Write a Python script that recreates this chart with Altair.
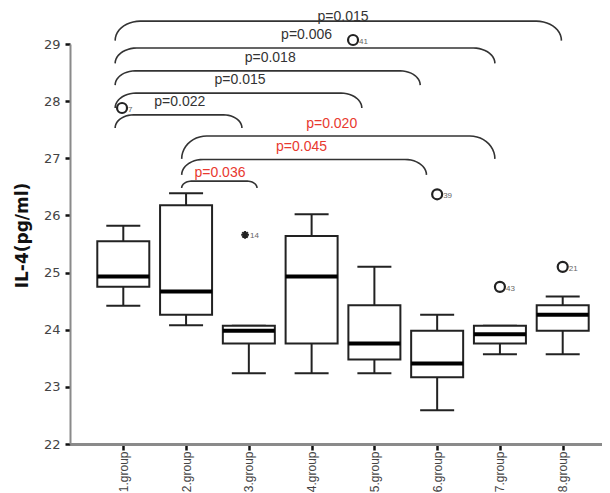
import altair as alt
import numpy as np
import pandas as pd

# ---------------- data ----------------
GROUPS = ["1.group", "2.group", "3.group", "4.group", "5.group", "6.group", "7.group", "8.group"]
POS = [1, 2, 3, 4, 5, 6, 7, 8]
WHISK_LO = [24.42, 24.08, 23.24, 23.24, 23.24, 22.59, 23.57, 23.57]
Q1 = [24.75, 24.26, 23.76, 23.76, 23.48, 23.17, 23.76, 23.98]
MEDIAN = [24.93, 24.67, 23.98, 24.93, 23.76, 23.41, 23.92, 24.26]
Q3 = [25.55, 26.18, 24.07, 25.64, 24.43, 23.98, 24.07, 24.43]
WHISK_HI = [25.82, 26.39, 24.07, 26.02, 25.10, 24.26, 24.07, 24.58]

OUT_POS = [0.98, 4.66, 6.0, 7.0, 8.0]
OUT_VAL = [27.88, 29.07, 26.37, 24.75, 25.10]
OUT_LAB = ["7", "41", "39", "43", "21"]

EXT_POS = [2.94]
EXT_VAL = [25.66]
EXT_LAB = ["14"]

BR_X1 = [0.87, 0.87, 0.87, 0.87, 0.87, 1.93, 1.93, 1.93]
BR_X2 = [7.98, 6.92, 5.73, 4.80, 2.89, 6.92, 5.83, 3.13]
BR_TOP = [29.40, 28.93, 28.53, 28.14, 27.76, 27.39, 26.98, 26.60]
BR_END = [29.06, 28.66, 28.28, 27.88, 27.53, 26.99, 26.71, 26.48]
P_LABEL = ["p=0.015", "p=0.006", "p=0.018", "p=0.015", "p=0.022", "p=0.020", "p=0.045", "p=0.036"]
P_X = [4.50, 3.92, 3.34, 2.86, 1.90, 4.32, 3.84, 2.54]
P_Y = [29.48, 29.16, 28.75, 28.37, 27.99, 27.60, 27.20, 26.75]
P_RED = [False, False, False, False, False, True, True, True]

Y_TICKS = [22, 23, 24, 25, 26, 27, 28, 29]

# ---------------- layout constants ----------------
W, H = 532, 400
X_DOMAIN = [0.151, 8.626]
Y_DOMAIN = [22, 29]
PX_PER_X = W / (X_DOMAIN[1] - X_DOMAIN[0])
PX_PER_Y = H / (Y_DOMAIN[1] - Y_DOMAIN[0])
BOX_HW = 26 / PX_PER_X
CAP_HW = 17 / PX_PER_X

boxes = pd.DataFrame({"group": GROUPS, "pos": POS, "lo": WHISK_LO, "q1": Q1,
                      "med": MEDIAN, "q3": Q3, "hi": WHISK_HI})
outl = pd.DataFrame({"pos": OUT_POS, "val": OUT_VAL, "lab": OUT_LAB})
ext = pd.DataFrame({"pos": EXT_POS, "val": EXT_VAL, "lab": EXT_LAB})
ptext = pd.DataFrame({"pos": P_X, "val": P_Y, "lab": P_LABEL,
                      "col": ["red" if r else "black" for r in P_RED]})

# bracket paths (rounded ends) built from bracket endpoints
rows = []
t = np.linspace(0, np.pi / 2, 12)
for b in range(len(BR_X1)):
    x1, x2, yt, ye = BR_X1[b], BR_X2[b], BR_TOP[b], BR_END[b]
    drop_px = (yt - ye) * PX_PER_Y
    rx = min(25, 1.4 * drop_px) / PX_PER_X
    ry = yt - ye
    xs = list(x1 + rx * (1 - np.cos(t))) + list((x2 - rx * (1 - np.cos(t)))[::-1])
    ys = list(ye + ry * np.sin(t)) + list((ye + ry * np.sin(t))[::-1])
    for i, (xx, yy) in enumerate(zip(xs, ys)):
        rows.append({"bid": b, "idx": i, "pos": xx, "val": yy})
brk = pd.DataFrame(rows)

label_expr = "[" + ",".join("'" + g + "'" for g in GROUPS) + "][datum.value - 1]"

xscale = alt.Scale(domain=X_DOMAIN, nice=False, zero=False)
yscale = alt.Scale(domain=Y_DOMAIN, nice=False, zero=False)
xaxis = alt.Axis(values=POS, labelExpr=label_expr, title=None, grid=False,
                 domainColor="#8a8a8a", domainWidth=3, tickColor="#111", tickWidth=2.5,
                 tickSize=6, labelAngle=270, labelAlign="right", labelBaseline="middle",
                 labelPadding=1, labelFontSize=12, labelColor="#444",
                 labelFont="Liberation Sans")
yaxis = alt.Axis(values=Y_TICKS, title="IL-4(pg/ml)", grid=False,
                 domainColor="#8a8a8a", domainWidth=2, tickColor="#111", tickWidth=2.5,
                 tickSize=5, labelPadding=5, labelFontSize=13, labelColor="#444",
                 labelFont="DejaVu Sans",
                 titleFont="DejaVu Sans", titleFontSize=17, titleFontWeight="bold",
                 titleColor="#111", titleAngle=270, titleAlign="center",
                 titleBaseline="middle", titleX=-48, titleY=191)


def X(field):
    return alt.X(field, type="quantitative", scale=xscale, axis=xaxis)


def Y(field):
    return alt.Y(field, type="quantitative", scale=yscale, axis=yaxis)


base = alt.Chart(boxes).transform_calculate(
    xl=f"datum.pos - {BOX_HW}", xr=f"datum.pos + {BOX_HW}",
    cl=f"datum.pos - {CAP_HW}", cr=f"datum.pos + {CAP_HW}")

whisk_up = base.mark_rule(color="#222", strokeWidth=2).encode(x=X("pos"), y=Y("q3"), y2="hi")
whisk_dn = base.mark_rule(color="#222", strokeWidth=2).encode(x=X("pos"), y=Y("lo"), y2="q1")
cap_hi = base.mark_rule(color="#222", strokeWidth=2).encode(x=X("cl"), x2="cr", y=Y("hi"))
cap_lo = base.mark_rule(color="#222", strokeWidth=2).encode(x=X("cl"), x2="cr", y=Y("lo"))
box = base.mark_rect(fill="white", stroke="#222", strokeWidth=2).encode(
    x=X("xl"), x2="xr", y=Y("q1"), y2="q3")
med = base.mark_rule(color="#000", strokeWidth=4).encode(x=X("xl"), x2="xr", y=Y("med"))

bracket = alt.Chart(brk).mark_line(color="#333", strokeWidth=1.6, clip=False).encode(
    x=X("pos"), y=Y("val"), detail="bid:N", order="idx:Q")

ptxt = alt.Chart(ptext).mark_text(font="Liberation Sans", fontSize=14, align="center",
                                  baseline="middle", clip=False).encode(
    x=X("pos"), y=Y("val"), text="lab:N",
    color=alt.Color("col:N", scale=alt.Scale(domain=["black", "red"],
                                             range=["#333333", "#e8392f"]), legend=None))

circ = alt.Chart(outl).mark_point(shape="circle", size=100, filled=False, color="#222",
                                  opacity=1, strokeWidth=2.2, clip=False).encode(
    x=X("pos"), y=Y("val"))
circ_lab = alt.Chart(outl).mark_text(fontSize=8, color="#666", align="left", dx=6, dy=2,
                                     font="Liberation Sans").encode(
    x=X("pos"), y=Y("val"), text="lab:N")

star = alt.Chart(ext).mark_point(
    shape="M-1,0L1,0M0,-1L0,1M-0.7,-0.7L0.7,0.7M-0.7,0.7L0.7,-0.7",
    size=60, filled=False, color="#222", opacity=1, strokeWidth=2).encode(
    x=X("pos"), y=Y("val"))
star_lab = alt.Chart(ext).mark_text(fontSize=8, color="#666", align="left", dx=5, dy=1,
                                    font="Liberation Sans").encode(
    x=X("pos"), y=Y("val"), text="lab:N")

chart = alt.layer(
    bracket, ptxt, whisk_up, whisk_dn, cap_hi, cap_lo, box, med,
    circ, circ_lab, star, star_lab
).properties(
    width=W, height=H,
    autosize=alt.AutoSizeParams(type="none"),
    padding={"left": 62, "top": 36, "right": 0, "bottom": 49},
    background="white",
).configure_view(stroke=None)

chart.save("out.html", embed_options={"renderer": "svg", "actions": False})
